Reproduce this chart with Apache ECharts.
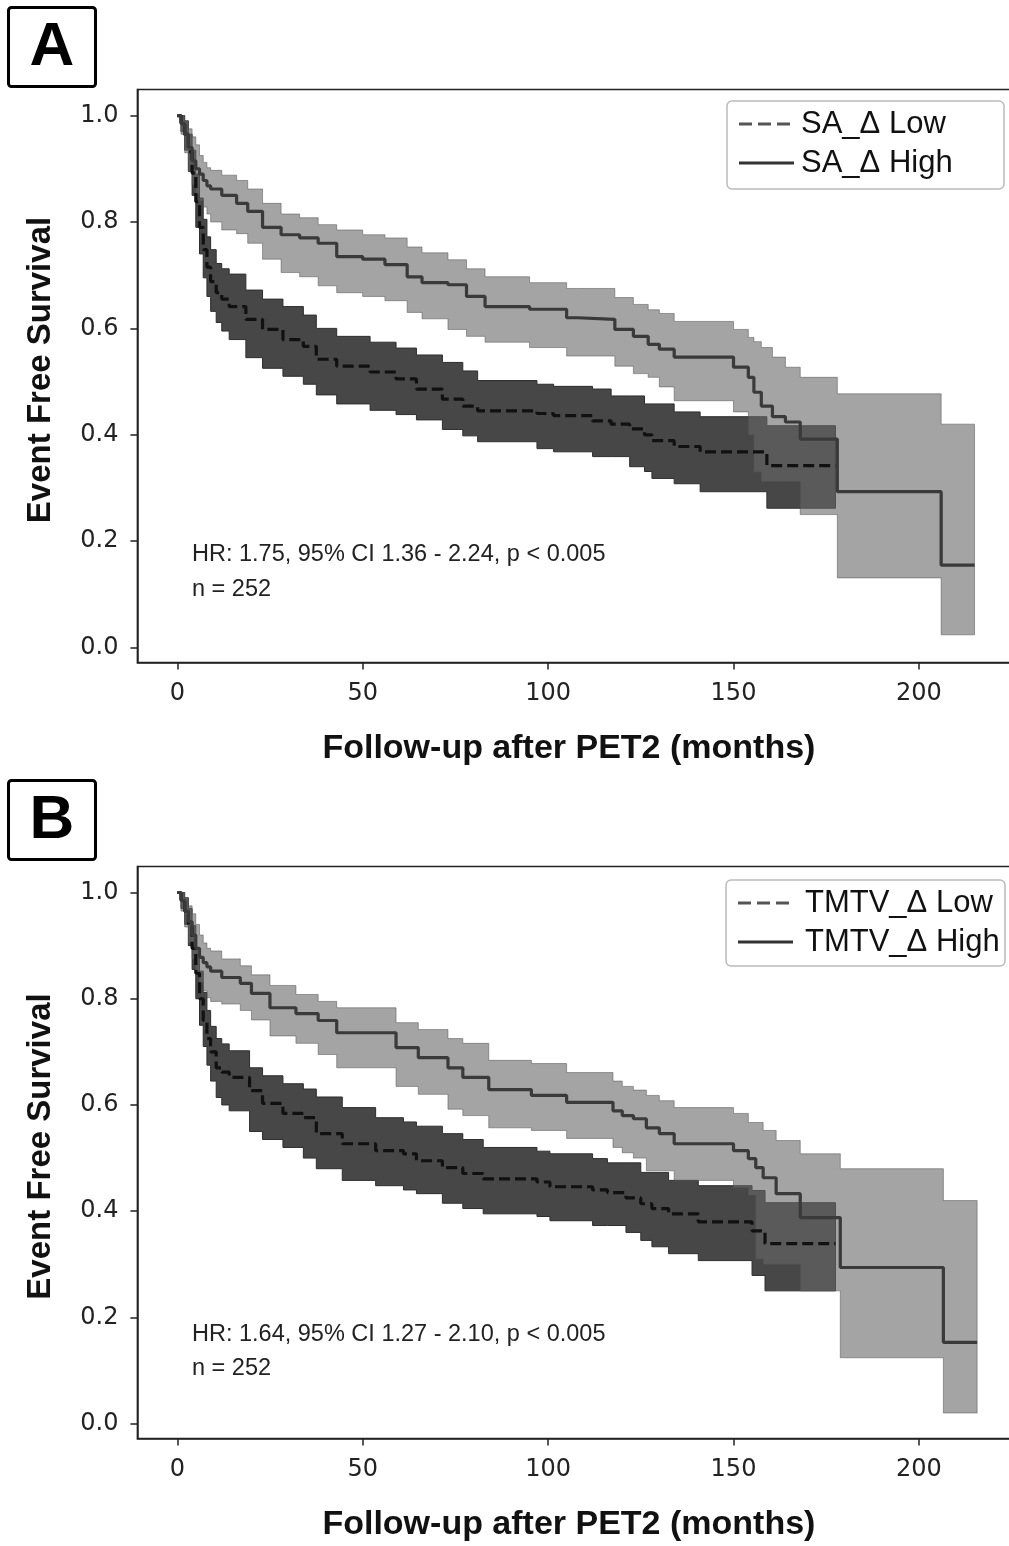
<!DOCTYPE html>
<html>
<head>
<meta charset="utf-8">
<script src="https://cdn.jsdelivr.net/npm/echarts@6/dist/echarts.min.js"></script>
<style>html,body{margin:0;padding:0;background:#fff}#c{width:1009px;height:1546px}</style>
</head>
<body>
<div id="c"></div>
<script>
// ---- ticks ----
const X_TICKS = [0, 50, 100, 150, 200];
const Y_TICKS = [0, 0.2, 0.4, 0.6, 0.8, 1.0];

// ---- Panel A : SA_Δ ----
const A_LOW_T  = [0,1,2,3,4,5,6,7,8,9,10.5,12,14,18.5,23,28.5,34,37.5,43,52,59,64.5,71.5,77,81,97,101.5,112,117,122,126,128,134,141,159,177.5];
const A_LOW_S  = [1.0,0.985,0.962,0.932,0.892,0.838,0.79,0.748,0.715,0.688,0.667,0.655,0.641,0.617,0.598,0.579,0.566,0.542,0.529,0.518,0.505,0.486,0.467,0.454,0.445,0.44,0.436,0.426,0.42,0.411,0.40,0.389,0.378,0.368,0.342,0.342];
const A_LOW_HI = [1.0,1.0,0.99,0.965,0.935,0.89,0.845,0.805,0.772,0.748,0.722,0.712,0.702,0.672,0.655,0.641,0.625,0.60,0.585,0.574,0.563,0.55,0.536,0.52,0.502,0.495,0.491,0.486,0.473,0.473,0.458,0.458,0.443,0.434,0.417,0.417];
const A_LOW_LO = [1.0,0.97,0.935,0.895,0.85,0.79,0.74,0.695,0.66,0.632,0.611,0.595,0.579,0.545,0.525,0.51,0.495,0.475,0.458,0.446,0.438,0.428,0.41,0.398,0.387,0.374,0.368,0.359,0.359,0.34,0.331,0.318,0.308,0.293,0.262,0.262];

const A_HIGH_T  = [0,1,2,3,4,5,6,7,8,9,12,16,19,23,28,33,38,43,50,56,62,66,73,78,83,95,105,108,118,123,127,130,134,150,154,155.5,157.5,160.5,164,168,178,206,215];
const A_HIGH_S  = [1.0,0.985,0.965,0.94,0.915,0.9,0.89,0.878,0.868,0.862,0.85,0.835,0.82,0.79,0.776,0.77,0.76,0.735,0.73,0.72,0.697,0.686,0.682,0.66,0.641,0.636,0.62,0.617,0.598,0.585,0.57,0.561,0.546,0.527,0.508,0.48,0.454,0.434,0.424,0.392,0.293,0.155,0.155];
const A_HIGH_HI = [1.0,1.0,0.99,0.975,0.96,0.945,0.925,0.912,0.902,0.897,0.888,0.878,0.862,0.835,0.815,0.808,0.795,0.785,0.776,0.77,0.753,0.742,0.729,0.712,0.697,0.686,0.675,0.675,0.658,0.645,0.635,0.628,0.613,0.598,0.583,0.575,0.564,0.546,0.527,0.508,0.477,0.42,0.42];
const A_HIGH_LO = [1.0,0.965,0.93,0.895,0.87,0.852,0.84,0.828,0.815,0.80,0.785,0.778,0.76,0.73,0.705,0.697,0.68,0.667,0.66,0.652,0.63,0.618,0.598,0.585,0.574,0.564,0.548,0.548,0.529,0.515,0.508,0.49,0.464,0.443,0.40,0.33,0.312,0.312,0.312,0.25,0.131,0.024,0.024];

// ---- Panel B : TMTV_Δ ----
const B_LOW_T  = [0,1,2,3,4,5,6,7,8,9,10.5,12,14,19.5,23,28.5,34,37.5,44.5,53.5,61,64.5,71.5,77,82.5,97,100.5,112,116,121,125,128,132.5,140.5,155,158.5,177.5];
const B_LOW_S  = [1.0,0.985,0.965,0.935,0.895,0.848,0.80,0.759,0.725,0.70,0.67,0.662,0.652,0.627,0.603,0.584,0.576,0.546,0.527,0.514,0.508,0.495,0.482,0.471,0.461,0.455,0.446,0.44,0.435,0.425,0.414,0.405,0.395,0.38,0.363,0.339,0.339];
const B_LOW_HI = [1.0,1.0,0.99,0.97,0.938,0.895,0.852,0.812,0.778,0.748,0.725,0.715,0.702,0.67,0.655,0.64,0.63,0.615,0.595,0.576,0.568,0.56,0.546,0.535,0.52,0.513,0.508,0.499,0.491,0.491,0.473,0.473,0.458,0.448,0.439,0.416,0.416];
const B_LOW_LO = [1.0,0.97,0.94,0.9,0.855,0.80,0.75,0.71,0.675,0.645,0.614,0.60,0.589,0.55,0.535,0.52,0.50,0.48,0.458,0.448,0.44,0.433,0.415,0.405,0.395,0.39,0.382,0.373,0.373,0.36,0.345,0.333,0.32,0.307,0.279,0.25,0.25];

const B_HIGH_T  = [0,1,2,3,4,5,6,7,8,9,12,17,20,25,32,38,43,59,65,73,77,84,95.5,105,117.5,120,123,126.5,130,134,150,154,156,158,161.5,168,178.8,206.6,215.7];
const B_HIGH_S  = [1.0,0.985,0.965,0.945,0.92,0.895,0.878,0.868,0.86,0.852,0.84,0.829,0.81,0.783,0.772,0.759,0.736,0.708,0.689,0.67,0.652,0.629,0.618,0.605,0.589,0.58,0.574,0.557,0.546,0.527,0.514,0.499,0.482,0.463,0.433,0.388,0.294,0.153,0.153];
const B_HIGH_HI = [1.0,1.0,0.99,0.975,0.96,0.94,0.92,0.905,0.895,0.89,0.875,0.862,0.845,0.825,0.808,0.795,0.783,0.755,0.742,0.725,0.716,0.684,0.678,0.661,0.645,0.635,0.628,0.618,0.608,0.595,0.584,0.567,0.567,0.552,0.533,0.508,0.48,0.42,0.42];
const B_HIGH_LO = [1.0,0.965,0.935,0.905,0.875,0.85,0.83,0.815,0.802,0.795,0.79,0.778,0.76,0.73,0.716,0.695,0.67,0.635,0.62,0.592,0.58,0.557,0.552,0.537,0.52,0.51,0.50,0.476,0.476,0.458,0.444,0.43,0.31,0.30,0.30,0.25,0.124,0.02,0.02];

// ---- texts ----
const PANEL_LABELS = ['A', 'B'];
const LEGEND_A = ['SA_Δ Low', 'SA_Δ High'];
const LEGEND_B = ['TMTV_Δ Low', 'TMTV_Δ High'];
const STATS_A = ['HR: 1.75, 95% CI 1.36 - 2.24, p < 0.005', 'n = 252'];
const STATS_B = ['HR: 1.64, 95% CI 1.27 - 2.10, p < 0.005', 'n = 252'];
const X_TITLE = 'Follow-up after PET2 (months)';
const Y_TITLE = 'Event Free Survival';

const chart = echarts.init(document.getElementById('c'), null, {renderer: 'canvas', width: 1009, height: 1546});

const AXC = '#222';
const TITLE_FONT = '"Liberation Sans", Arial, sans-serif';
const TICK_FONT = '"DejaVu Sans", sans-serif';

function band(gi, T, lo, hi, fill, stroke) {
  return {
    type: 'custom', xAxisIndex: gi, yAxisIndex: gi, silent: true, clip: false,
    data: T.map((t, i) => [t, lo[i], hi[i]]),
    encode: {x: 0, y: [1, 2]},
    renderItem: function (params, api) {
      if (params.dataIndex !== 0) return null;
      const n = T.length, pts = [];
      for (let i = 0; i < n - 1; i++) {
        pts.push(api.coord([T[i], hi[i]]));
        pts.push(api.coord([T[i + 1], hi[i]]));
      }
      for (let i = n - 2; i >= 0; i--) {
        pts.push(api.coord([T[i + 1], lo[i]]));
        pts.push(api.coord([T[i], lo[i]]));
      }
      return {type: 'polygon', shape: {points: pts}, style: {fill: fill, stroke: stroke, lineWidth: 1}};
    }
  };
}

function kmLine(gi, name, T, S, color, dash) {
  return {
    type: 'line', name: name, xAxisIndex: gi, yAxisIndex: gi, step: 'end',
    symbol: 'none', silent: true,
    data: T.map((t, i) => [t, S[i]]),
    lineStyle: {color: color, width: 3.2, type: dash ? [11, 5] : 'solid'}
  };
}

function xAxisCfg(gi) {
  return {
    type: 'value', gridIndex: gi, min: -10.75, max: 225.75,
    axisLine: {show: true, onZero: false, lineStyle: {color: AXC, width: 1.5}},
    axisTick: {show: true, length: 7, customValues: X_TICKS, lineStyle: {color: AXC, width: 1.5}},
    axisLabel: {customValues: X_TICKS, fontSize: 24, fontFamily: TICK_FONT, color: '#222', margin: 19},
    splitLine: {show: false},
    name: X_TITLE, nameLocation: 'middle', nameGap: 69,
    nameTextStyle: {fontSize: 34, fontWeight: 'bold', fontFamily: TITLE_FONT, color: '#111', padding: [0, 14, 0, 0]}
  };
}
function yAxisCfg(gi) {
  return {
    type: 'value', gridIndex: gi, min: -0.028, max: 1.049,
    axisLine: {show: true, onZero: false, lineStyle: {color: AXC, width: 1.5}},
    axisTick: {show: true, length: 7, customValues: Y_TICKS, lineStyle: {color: AXC, width: 1.5}},
    axisLabel: {customValues: Y_TICKS, fontSize: 24, fontFamily: TICK_FONT, color: '#222', margin: 19,
      formatter: v => v.toFixed(1)},
    splitLine: {show: false},
    name: Y_TITLE, nameLocation: 'middle', nameGap: 80, nameRotate: 90,
    nameTextStyle: {fontSize: 33, fontWeight: 'bold', fontFamily: TITLE_FONT, color: '#111', padding: [0, 0, 0, 12]}
  };
}

function panelBox(label, top) {
  return [
    {type: 'rect', shape: {x: 8.5, y: top, width: 87, height: 79, r: 3},
     style: {fill: '#fff', stroke: '#000', lineWidth: 3}},
    {type: 'text', style: {text: label, x: 52, y: top + 40, textAlign: 'center', textVerticalAlign: 'middle',
      font: 'bold 62px ' + TITLE_FONT, fill: '#000'}}
  ];
}
function legendBox(labels, x, y, w, h, tx) {
  return [
    {type: 'rect', shape: {x: x, y: y, width: w, height: h, r: 5},
     style: {fill: 'rgba(255,255,255,0.85)', stroke: '#bbb', lineWidth: 1.5}},
    {type: 'line', shape: {x1: x + 12, y1: y + 23, x2: x + 67, y2: y + 23},
     style: {stroke: '#555', lineWidth: 3, lineDash: [13, 6]}},
    {type: 'line', shape: {x1: x + 12, y1: y + 62, x2: x + 67, y2: y + 62},
     style: {stroke: '#333', lineWidth: 3}},
    {type: 'text', style: {text: labels[0], x: tx, y: y + 23, textVerticalAlign: 'middle',
      font: '31px ' + TITLE_FONT, fill: '#111'}},
    {type: 'text', style: {text: labels[1], x: tx, y: y + 62, textVerticalAlign: 'middle',
      font: '31px ' + TITLE_FONT, fill: '#111'}}
  ];
}
function stats(lines, y1, y2) {
  return [
    {type: 'text', style: {text: lines[0], x: 192, y: y1, textVerticalAlign: 'middle', font: '23.5px ' + TITLE_FONT, fill: '#222'}},
    {type: 'text', style: {text: lines[1], x: 192, y: y2, textVerticalAlign: 'middle', font: '23.5px ' + TITLE_FONT, fill: '#222'}}
  ];
}

const DARK_FILL = '#474747', DARK_STROKE = '#2e2e2e';
const LIGHT_FILL = 'rgba(103,103,103,0.6)', LIGHT_STROKE = 'rgba(80,80,80,0.5)';

const option = {
  animation: false,
  backgroundColor: '#fff',
  grid: [
    {left: 137.4, top: 89.5, width: 877, height: 573, show: true, borderColor: AXC, borderWidth: 1.5, outerBoundsMode: 'none'},
    {left: 137.4, top: 866.5, width: 877, height: 572, show: true, borderColor: AXC, borderWidth: 1.5, outerBoundsMode: 'none'}
  ],
  xAxis: [xAxisCfg(0), xAxisCfg(1)],
  yAxis: [yAxisCfg(0), yAxisCfg(1)],
  series: [
    band(0, A_LOW_T, A_LOW_LO, A_LOW_HI, DARK_FILL, DARK_STROKE),
    band(0, A_HIGH_T, A_HIGH_LO, A_HIGH_HI, LIGHT_FILL, LIGHT_STROKE),
    kmLine(0, LEGEND_A[0], A_LOW_T, A_LOW_S, '#111', true),
    kmLine(0, LEGEND_A[1], A_HIGH_T, A_HIGH_S, '#3a3a3a', false),
    band(1, B_LOW_T, B_LOW_LO, B_LOW_HI, DARK_FILL, DARK_STROKE),
    band(1, B_HIGH_T, B_HIGH_LO, B_HIGH_HI, LIGHT_FILL, LIGHT_STROKE),
    kmLine(1, LEGEND_B[0], B_LOW_T, B_LOW_S, '#111', true),
    kmLine(1, LEGEND_B[1], B_HIGH_T, B_HIGH_S, '#3a3a3a', false)
  ],
  graphic: [].concat(
    panelBox(PANEL_LABELS[0], 7.5),
    panelBox(PANEL_LABELS[1], 780.5),
    legendBox(LEGEND_A, 727, 101, 277, 88, 801),
    legendBox(LEGEND_B, 726, 880, 279, 86, 805),
    stats(STATS_A, 555, 590),
    stats(STATS_B, 1335, 1369)
  )
};
chart.setOption(option);
</script>
</body>
</html>
